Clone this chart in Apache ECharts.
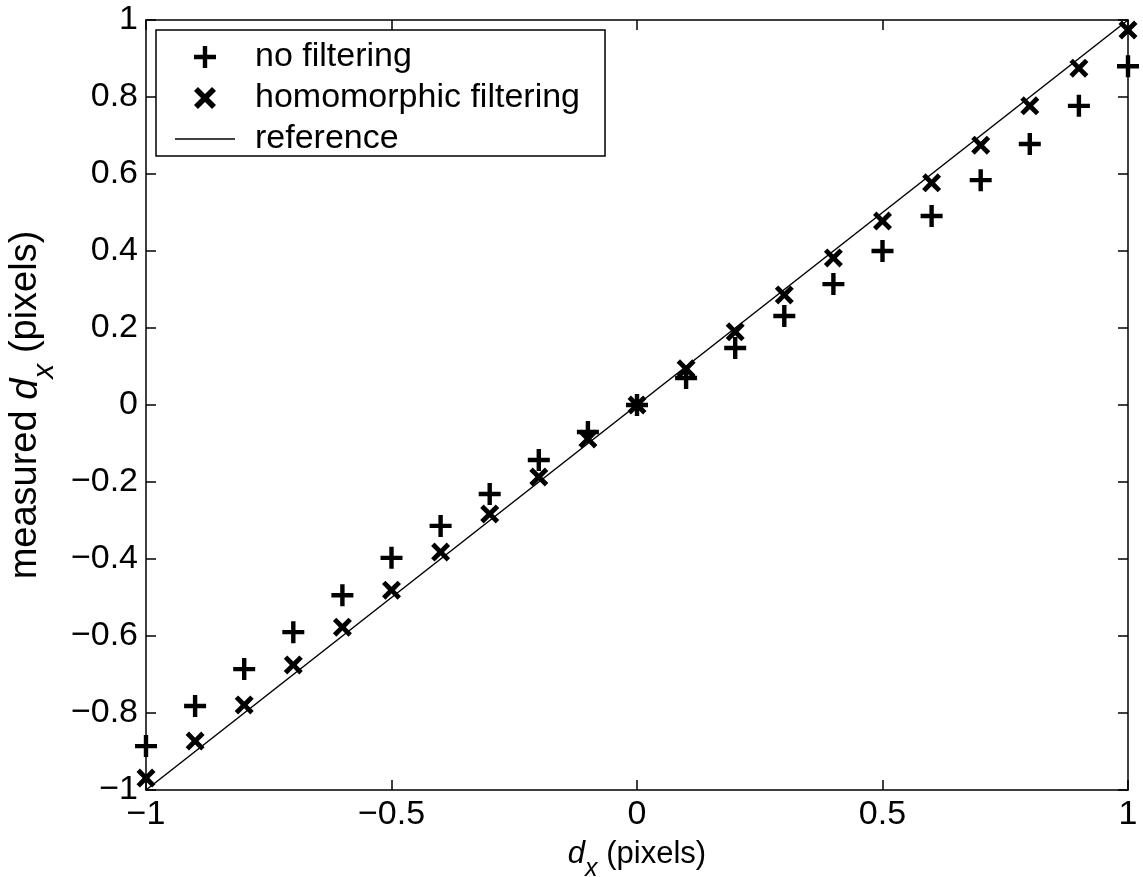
<!DOCTYPE html>
<html>
<head>
<meta charset="utf-8">
<script src="https://cdn.jsdelivr.net/npm/echarts@6/dist/echarts.min.js"></script>
<style>html,body{margin:0;padding:0;background:#fff}#c{width:1143px;height:877px}</style>
</head>
<body>
<div id="c"></div>
<script>
const dxTrue = [-1,-0.9,-0.8,-0.7,-0.6,-0.5,-0.4,-0.3,-0.2,-0.1,0,0.1,0.2,0.3,0.4,0.5,0.6,0.7,0.8,0.9,1];
const noFiltering = [-0.886,-0.782,-0.686,-0.590,-0.494,-0.397,-0.314,-0.231,-0.143,-0.070,0,0.070,0.148,0.231,0.314,0.400,0.491,0.584,0.678,0.777,0.880];
const homomorphic = [-0.969,-0.873,-0.779,-0.675,-0.577,-0.481,-0.382,-0.283,-0.187,-0.088,0,0.094,0.190,0.286,0.382,0.478,0.577,0.675,0.777,0.875,0.974];
const referenceX = [-1, 1];
const referenceY = [-1, 1];
const seriesNames = ['no filtering', 'homomorphic filtering', 'reference'];

const FONT = '"Liberation Sans", Arial, Helvetica, sans-serif';
const PLUS = 'path://M40 0H60V40H100V60H60V100H40V60H0V40H40Z';
const CROSS = 'path://M0 18L18 0L50 32L82 0L100 18L68 50L100 82L82 100L50 68L18 100L0 82L32 50Z';
const LINEICON = 'path://M0 0H100V2.5H0Z';
const fmt = v => String(+v.toFixed(2)).replace('-', '\u2212');

const axisLine = {show: true, onZero: false, lineStyle: {color: '#000', width: 1.5}};
const axisTick = {show: true, inside: true, length: 10, lineStyle: {color: '#000', width: 1.5}};
function richName(size) {
  return {
    i: {fontStyle: 'italic', fontSize: size, fontFamily: FONT, color: '#000'},
    s: {fontStyle: 'italic', fontSize: Math.round(size * 0.8), fontFamily: FONT, color: '#000', padding: [Math.round(size), 0, 0, 0]}
  };
}

const chart = echarts.init(document.getElementById('c'), null, {renderer: 'canvas'});
chart.setOption({
  backgroundColor: '#fff',
  animation: false,
  grid: {left: 146, right: 15, top: 20, bottom: 87, containLabel: false, outerBoundsMode: 'none'},
  legend: {
    orient: 'vertical', left: 156, top: 30,
    data: [
      {name: seriesNames[0]},
      {name: seriesNames[1]},
      {name: seriesNames[2], icon: LINEICON, itemStyle: {color: '#000', borderWidth: 0}}
    ],
    itemWidth: 60, itemHeight: 22, itemGap: 7,
    padding: [10, 25, 0, 19],
    borderColor: '#000', borderWidth: 1.5, backgroundColor: '#fff',
    textStyle: {fontSize: 34, fontFamily: FONT, color: '#000', padding: [0, 0, 0, 15]},
    selectedMode: false
  },
  xAxis: [{
    type: 'value', min: -1, max: 1, interval: 0.5,
    axisLine, axisTick, splitLine: {show: false},
    axisLabel: {fontSize: 34, fontFamily: FONT, color: '#000', margin: 8, formatter: fmt},
    name: '{i|d}{s|x} (pixels)', nameLocation: 'middle', nameGap: 36,
    nameTextStyle: {fontSize: 31, fontFamily: FONT, color: '#000', rich: richName(31)}
  }, {
    type: 'value', min: -1, max: 1, interval: 0.5, position: 'top',
    axisLine, axisTick, splitLine: {show: false}, axisLabel: {show: false}
  }],
  yAxis: [{
    type: 'value', min: -1, max: 1, interval: 0.2,
    axisLine, axisTick, splitLine: {show: false},
    axisLabel: {fontSize: 34, fontFamily: FONT, color: '#000', margin: 8, formatter: fmt},
    name: 'measured {i|d}{s|x} (pixels)', nameLocation: 'middle', nameGap: 86, nameRotate: 90,
    nameTextStyle: {fontSize: 38, fontFamily: FONT, color: '#000', rich: richName(38)}
  }, {
    type: 'value', min: -1, max: 1, interval: 0.2, position: 'right',
    axisLine, axisTick, splitLine: {show: false}, axisLabel: {show: false}
  }],
  series: [{
    name: seriesNames[0], type: 'scatter', symbol: PLUS, symbolSize: 22,
    itemStyle: {color: '#000', opacity: 1}, z: 3,
    data: dxTrue.map((x, i) => [x, noFiltering[i]])
  }, {
    name: seriesNames[1], type: 'scatter', symbol: CROSS, symbolSize: 19,
    itemStyle: {color: '#000', opacity: 1}, z: 4,
    data: dxTrue.map((x, i) => [x, homomorphic[i]])
  }, {
    name: seriesNames[2], type: 'line', symbol: 'none', showSymbol: false,
    lineStyle: {color: '#000', width: 1.5}, itemStyle: {color: '#000'}, z: 2,
    data: referenceX.map((x, i) => [x, referenceY[i]])
  }]
});
</script>
</body>
</html>
